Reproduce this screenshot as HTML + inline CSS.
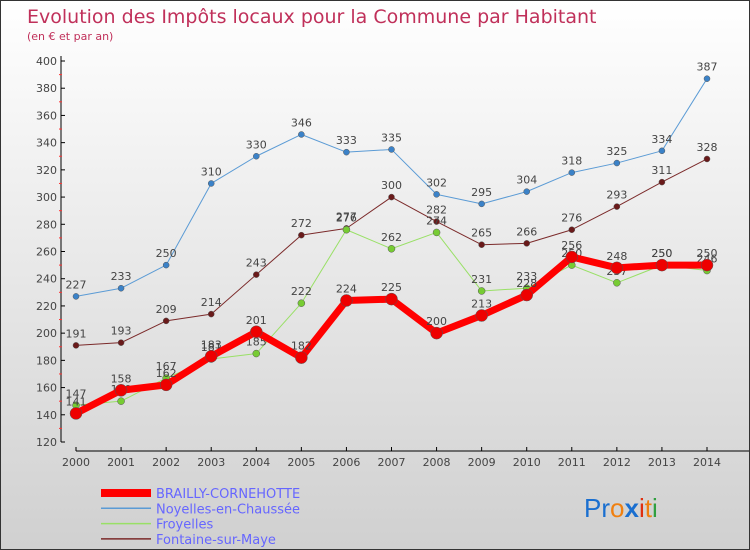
<!DOCTYPE html>
<html><head><meta charset="utf-8"><style>
body{margin:0}
#c{width:750px;height:550px;position:relative;background:linear-gradient(#ffffff,#d0d0d0);font-family:"DejaVu Sans","Liberation Sans",sans-serif;overflow:hidden;box-sizing:border-box;border:1px solid #333}
</style></head><body>
<div id="c">
<svg width="750" height="550" id="svg">
<text x="26" y="22" font-size="19" fill="#c0305a">Evolution des Impôts locaux pour la Commune par Habitant</text>
<text x="26" y="39" font-size="11" fill="#c0305a">(en € et par an)</text>
<g id="axes"></g><g id="series"></g><g id="legend"></g>
<text x="583" y="516" font-size="26" font-family="Liberation Sans,sans-serif"><tspan fill="#1a6fd0">Pr</tspan><tspan fill="#f08010">o</tspan><tspan fill="#1a6fd0" font-weight="bold">x</tspan><tspan fill="#e03010">i</tspan><tspan fill="#f08010">t</tspan><tspan fill="#30a040">i</tspan></text>
</svg></div>
<script>
const years=[2000,2001,2002,2003,2004,2005,2006,2007,2008,2009,2010,2011,2012,2013,2014];
const brailly=[141,158,162,183,201,182,224,225,200,213,228,256,248,250,250];
const noyelles=[227,233,250,310,330,346,333,335,302,295,304,318,325,334,387];
const froyelles=[147,150,167,181,185,222,276,262,274,231,233,250,237,250,246];
const fontaine=[191,193,209,214,243,272,277,300,282,265,266,276,293,311,328];
const yTicks=[120,140,160,180,200,220,240,260,280,300,320,340,360,380,400];
const names=["BRAILLY-CORNEHOTTE","Noyelles-en-Chaussée","Froyelles","Fontaine-sur-Maye"];
const NS="http://www.w3.org/2000/svg";
function X(i){return 75+i*(706-75)/(years.length-1);}
function Y(v){return 441-(v-120)*(441-60)/280;}
function mk(t,a,p){const e=document.createElementNS(NS,t);for(const k in a)e.setAttribute(k,a[k]);p.appendChild(e);return e;}
const ax=document.getElementById('axes');
let l=mk('line',{x1:60,y1:55,x2:60,y2:441,stroke:'#000'},ax);


l=mk('line',{x1:75,y1:450,x2:749,y2:450,stroke:'#000'},ax);


yTicks.forEach((v,i)=>{mk('line',{x1:60,y1:Y(v),x2:64,y2:Y(v),stroke:'#000'},ax);
 if(i<yTicks.length-1)mk('line',{x1:58,y1:Y(v+10),x2:61,y2:Y(v+10),stroke:'#f33'},ax);
 const t=mk('text',{x:56,y:Y(v)+4,'font-size':11,fill:'#444','text-anchor':'end'},ax);t.textContent=v;
 
 });
years.forEach((y,i)=>{mk('line',{x1:X(i),y1:446,x2:X(i),y2:450,stroke:'#000'},ax);
 const t=mk('text',{x:X(i),y:465,'font-size':11,fill:'#444','text-anchor':'middle'},ax);t.textContent=y;
 
 });
const sg=document.getElementById('series');
function draw(data,color,w,r,dot,name){
 const g=mk('g',{},sg);
 
 
 mk('polyline',{points:data.map((v,i)=>X(i)+','+Y(v)).join(' '),fill:'none',stroke:color,'stroke-width':w,'stroke-linejoin':'round'},g);
 data.forEach((v,i)=>{const c=mk('circle',{cx:X(i),cy:Y(v),r:r,fill:dot,stroke:'#555','stroke-width':0.5},g);
  
  
  const t=mk('text',{x:X(i),y:Y(v)-8,'font-size':11,fill:'#444','text-anchor':'middle'},g);t.textContent=v;
  
  });
}
draw(noyelles,'#5b9bd5',1,3,'#3b82c8','noyelles-series');
draw(fontaine,'#7b2a2a',1,3,'#6a1a1a','fontaine-series');
draw(froyelles,'#99e066',1,3.5,'#77cc33','froyelles-series');
draw(brailly,'#ff0000',7,6,'#ee0000','brailly-series');
const lg=document.getElementById('legend');
const lc=['#ff0000','#5b9bd5','#99e066','#7b2a2a'],lw=[8,1.5,1.5,1.5];
names.forEach((n,i)=>{const y=492+i*15.3;
 const g=mk('g',{},lg);
 
 
 mk('line',{x1:100,y1:y,x2:150,y2:y,stroke:lc[i],'stroke-width':lw[i]},g);
 const t=mk('text',{x:155,y:y+5,'font-size':13,fill:'#6666ff'},g);t.textContent=n;});
</script>
</body></html>
